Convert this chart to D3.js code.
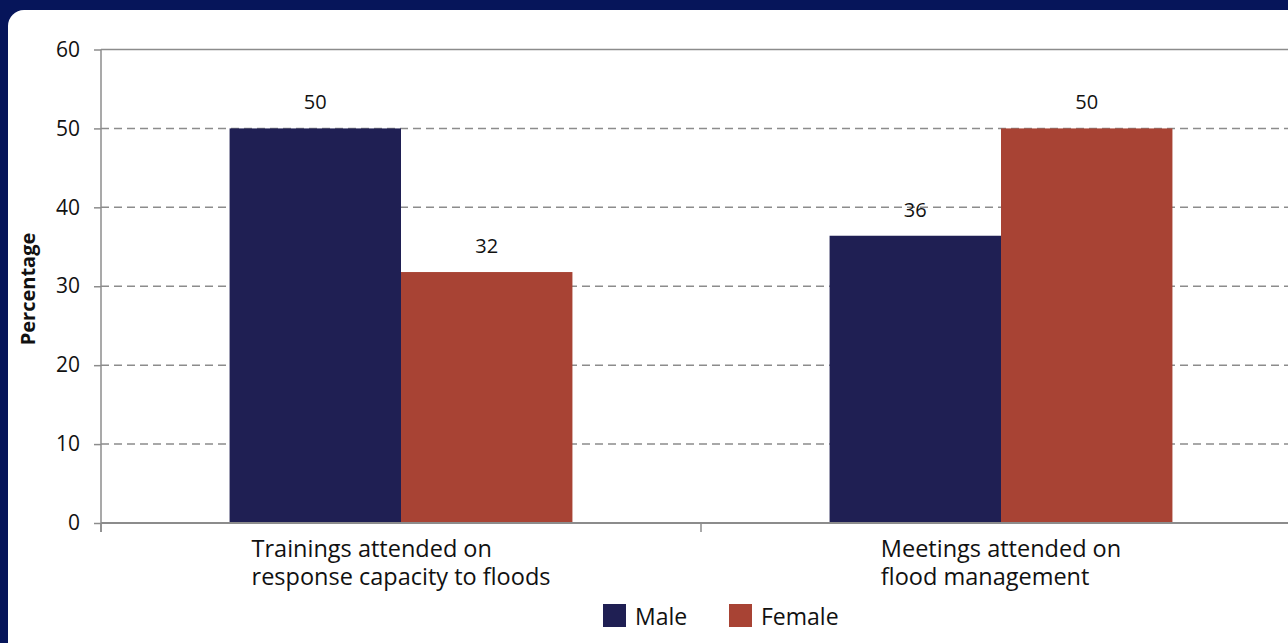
<!DOCTYPE html>
<html>
<head>
<meta charset="utf-8">
<script src="https://cdn.jsdelivr.net/npm/d3@7"></script>
<style>
  body { margin: 0; overflow: hidden; }
  svg { display: block; }
  text { font-family: "Open Sans", "Noto Sans", sans-serif; fill: #111; }
</style>
</head>
<body>
<div id="chart"></div>
<script>
const width = 1288,
  height = 643,
  margin = { top: 49.5, bottom: 120, left: 101, right: -13 };

// chart data
const categories = [
  ["Trainings attended on", "response capacity to floods"],
  ["Meetings attended on", "flood management"],
];
const series = ["Male", "Female"];
const maleValues = [50, 36.4];
const femaleValues = [31.8, 50];
const yTicks = [0, 10, 20, 30, 40, 50, 60];

const colors = { Male: "#1f1f53", Female: "#a84334" };
const axisGrey = "#8c8c8c";

const rows = categories.map((c, i) => ({
  key: c.join(" "),
  lines: c,
  values: { Male: maleValues[i], Female: femaleValues[i] },
}));

const svg = d3
  .select("#chart")
  .append("svg")
  .attr("width", width)
  .attr("height", height);

// frame
svg.append("rect").attr("width", width).attr("height", height).attr("fill", "#06155a");
svg
  .append("rect")
  .attr("x", 8)
  .attr("y", 10)
  .attr("width", width + 40)
  .attr("height", height + 40)
  .attr("rx", 16)
  .attr("fill", "#fff");

const plotBottom = 523;

const y = d3.scaleLinear().domain([0, 60]).range([plotBottom, margin.top]);

const x0 = d3
  .scaleBand()
  .domain(rows.map(d => d.key))
  .range([margin.left, margin.left + 1200])
  .paddingInner(0)
  .paddingOuter(0);

const x1 = d3
  .scaleBand()
  .domain(series)
  .range([0, x0.bandwidth()])
  .paddingInner(0)
  .paddingOuter(0.75);

// gridlines
svg
  .append("g")
  .selectAll("line")
  .data(yTicks.filter(t => t > 0))
  .join("line")
  .attr("x1", margin.left)
  .attr("x2", width)
  .attr("y1", d => y(d))
  .attr("y2", d => y(d))
  .attr("stroke", axisGrey)
  .attr("stroke-width", 1.5)
  .attr("stroke-dasharray", d => (d === 60 ? null : "8,5"));

// bars
const group = svg
  .append("g")
  .selectAll("g")
  .data(rows)
  .join("g")
  .attr("transform", d => `translate(${x0(d.key)},0)`);

group
  .selectAll("rect")
  .data(d => series.map(s => ({ s, v: d.values[s] })))
  .join("rect")
  .attr("x", d => x1(d.s))
  .attr("y", d => y(d.v))
  .attr("width", x1.bandwidth())
  .attr("height", d => plotBottom - y(d.v))
  .attr("fill", d => colors[d.s]);

group
  .selectAll("text.value")
  .data(d => series.map(s => ({ s, v: d.values[s] })))
  .join("text")
  .attr("class", "value")
  .attr("x", d => x1(d.s) + x1.bandwidth() / 2)
  .attr("y", d => y(d.v) - 19)
  .attr("text-anchor", "middle")
  .style("font-size", "20px")
  .text(d => Math.round(d.v));

// y axis
const yAxis = svg
  .append("g")
  .attr("transform", `translate(${margin.left},0)`)
  .call(d3.axisLeft(y).tickValues(yTicks).tickSize(7).tickPadding(14).tickSizeOuter(0));
yAxis.select(".domain").remove();
yAxis.selectAll(".tick line").attr("stroke", axisGrey).attr("stroke-width", 1.5);
yAxis.selectAll(".tick text").style("font-size", "21px").attr("fill", "#111");

svg
  .append("line")
  .attr("x1", margin.left)
  .attr("x2", margin.left)
  .attr("y1", y(60))
  .attr("y2", plotBottom + 9)
  .attr("stroke", axisGrey)
  .attr("stroke-width", 1.5);

// x axis
svg
  .append("line")
  .attr("x1", margin.left)
  .attr("x2", width)
  .attr("y1", plotBottom)
  .attr("y2", plotBottom)
  .attr("stroke", axisGrey)
  .attr("stroke-width", 2);

svg
  .append("g")
  .selectAll("line")
  .data(rows)
  .join("line")
  .attr("x1", d => x0(d.key))
  .attr("x2", d => x0(d.key))
  .attr("y1", plotBottom)
  .attr("y2", plotBottom + 9)
  .attr("stroke", axisGrey)
  .attr("stroke-width", 1.5);

const catLabels = svg
  .append("g")
  .selectAll("text")
  .data(rows)
  .join("text")
  .style("font-size", "23.5px");

catLabels
  .selectAll("tspan")
  .data(d => d.lines)
  .join("tspan")
  .attr("dy", (d, i) => (i === 0 ? 0 : 28))
  .text(d => d);

catLabels.each(function (d) {
  const spans = d3.select(this).selectAll("tspan");
  let w = 0;
  spans.each(function () {
    w = Math.max(w, this.getComputedTextLength());
  });
  const left = x0(d.key) + x0.bandwidth() / 2 - w / 2;
  spans.attr("x", left);
  d3.select(this).attr("y", 557);
});

// y title
svg
  .append("text")
  .attr("transform", `translate(35,289) rotate(-90)`)
  .attr("text-anchor", "middle")
  .style("font-size", "20px")
  .style("font-weight", "bold")
  .text("Percentage");

// legend
const legend = svg
  .append("g")
  .selectAll("g")
  .data(series)
  .join("g")
  .attr("transform", (d, i) => `translate(${603 + i * 126},604)`);

legend
  .append("rect")
  .attr("width", 23)
  .attr("height", 23)
  .attr("fill", d => colors[d]);

legend
  .append("text")
  .attr("x", 32)
  .attr("y", 21)
  .style("font-size", "23px")
  .text(d => d);
</script>
</body>
</html>
